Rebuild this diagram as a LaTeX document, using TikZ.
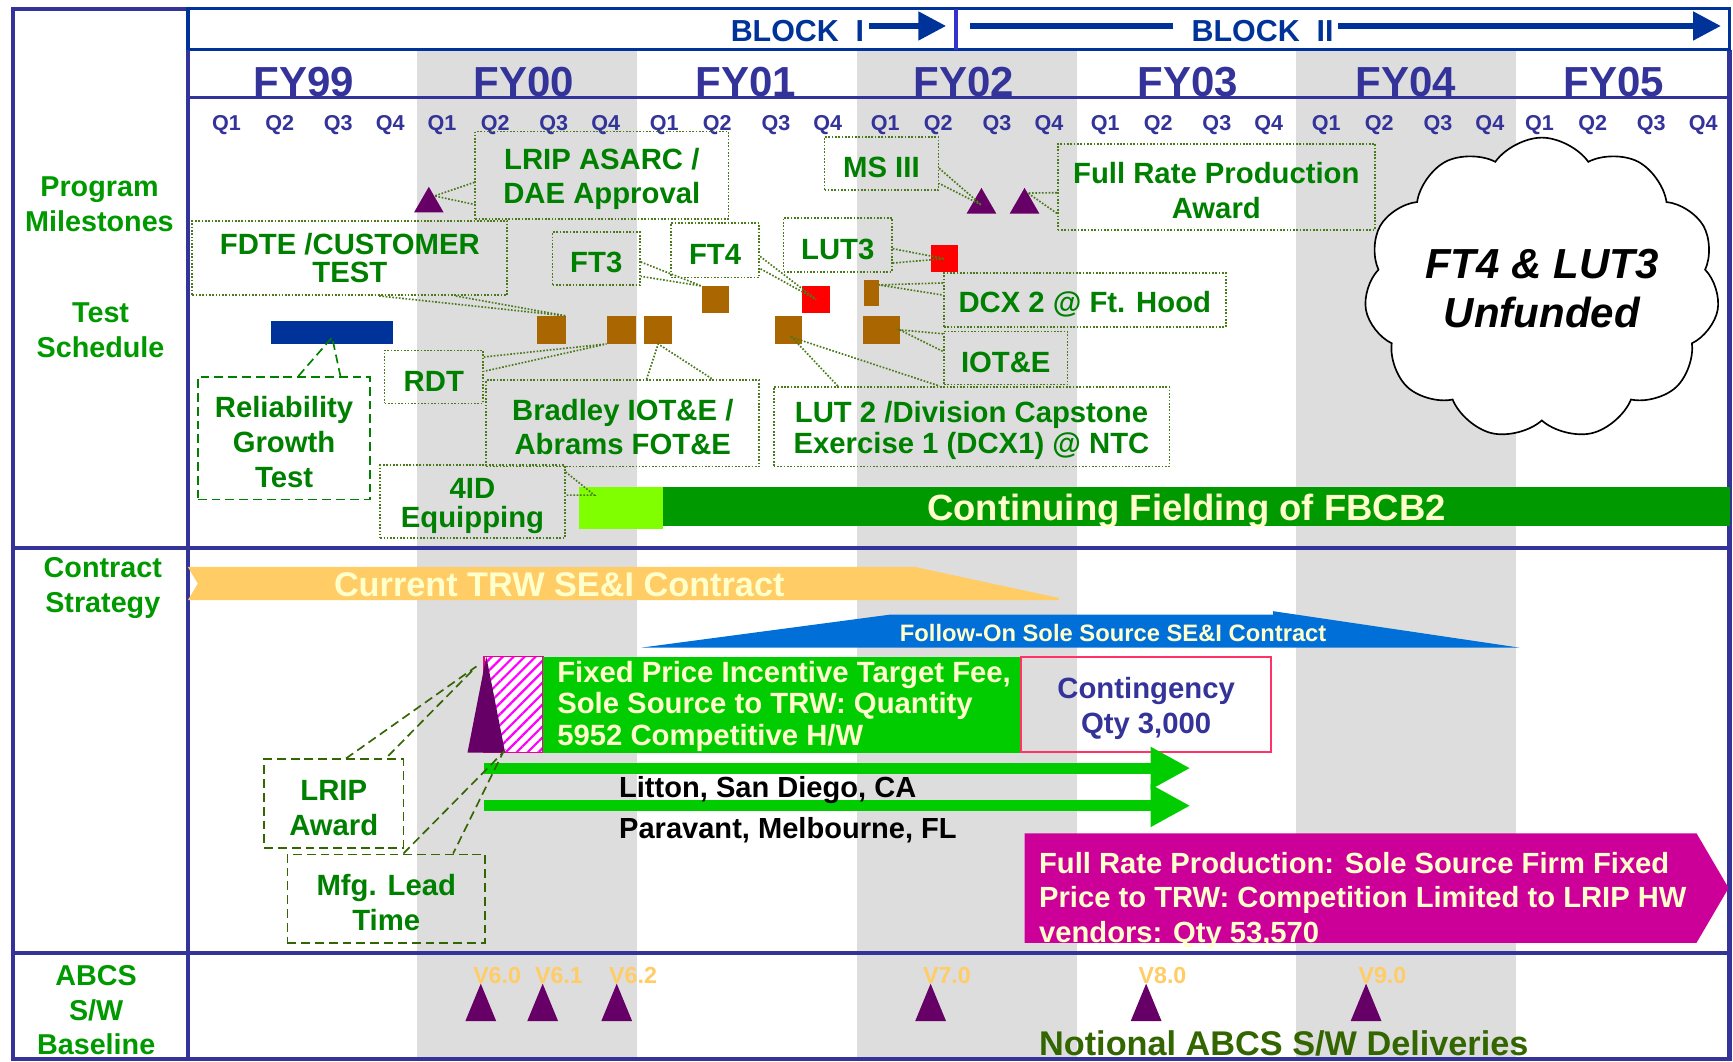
\documentclass[tikz,border=0pt]{standalone}
\usepackage{fontspec}
\setmainfont{Liberation Sans}
\usetikzlibrary{positioning,shapes.geometric,shapes.symbols,arrows.meta,patterns.meta}

\definecolor{navy}{HTML}{333399}
\definecolor{blockblue}{HTML}{003399}
\definecolor{sepblue}{HTML}{3333CC}
\definecolor{bandgrey}{HTML}{DDDDDD}
\definecolor{sidegreen}{HTML}{009900}
\definecolor{notegreen}{HTML}{008000}
\definecolor{dotgreen}{HTML}{4A7A1A}
\definecolor{olivedk}{HTML}{336600}
\definecolor{tanbrown}{HTML}{AA6600}
\definecolor{plum}{HTML}{660066}
\definecolor{cream}{HTML}{FFFFCC}
\definecolor{amber}{HTML}{FFCC66}
\definecolor{seablue}{HTML}{0070D8}
\definecolor{limebar}{HTML}{80FF00}
\definecolor{fieldgreen}{HTML}{009900}
\definecolor{brightgreen}{HTML}{00CC00}
\definecolor{rose}{HTML}{FF3366}
\definecolor{orchid}{HTML}{CC0099}

% keeps callout text a little below the box centre
\newcommand\notestrut{\rule{0pt}{26pt}}

\begin{document}
\begin{tikzpicture}[x=1pt,y=-1pt,
      every node/.style={inner sep=0pt,align=center,
                         font=\bfseries\fontsize{26.3}{31}\selectfont},
      frame/.style={draw=navy,line width=4pt},
      yearhdr/.style={text=navy,anchor=base,font=\bfseries\fontsize{38}{40}\selectfont},
      qtr/.style={text=navy,anchor=base,font=\bfseries\fontsize{19.5}{20}\selectfont},
      blk/.style={text=blockblue,anchor=base west,font=\bfseries\fontsize{27.5}{30}\selectfont},
      blkline/.style={draw=blockblue,line width=5pt},
      side/.style={text=sidegreen,font=\bfseries\fontsize{26}{31.5}\selectfont},
      note/.style={draw=dotgreen,line width=1.5pt,dash pattern=on 1.5pt off 1.5pt,text=notegreen,
                   font=\bfseries\fontsize{26.5}{31.5}\selectfont},
      dnote/.style={draw=olivedk,line width=1.5pt,dash pattern=on 8pt off 4.5pt,text=notegreen,
                   font=\bfseries\fontsize{26.5}{31.5}\selectfont},
      wedge/.style={draw=dotgreen,line width=1.5pt,dash pattern=on 1.5pt off 1.5pt},
      dwedge/.style={draw=olivedk,line width=1.5pt,dash pattern=on 8pt off 4.5pt},
      milestone/.style={regular polygon,regular polygon sides=3,fill=plum,minimum size=31pt},
      tile/.style={fill=tanbrown,minimum width=25pt,minimum height=25pt},
      lane/.style={draw=brightgreen,line width=10pt,-{Triangle[length=36pt,width=36pt]}},
      light/.style={text=cream},
      ver/.style={text=amber,anchor=base west,font=\bfseries\fontsize{21}{22}\selectfont},
    ]
      \useasboundingbox (0,0) rectangle (1568,960);

      % fiscal year shading
      \foreach \xs in {377,775,1173}
        \fill[bandgrey] (\xs,45) rectangle +(199,912);

      % grid
      \draw[frame] (170,8) -- (12,8) -- (12,958) -- (1565,958) -- (1565,45);
      \draw[blockblue,line width=3pt] (170,8) rectangle (1565,45);
      \draw[sepblue,line width=3pt] (865,8) -- (865,45);
      \draw[frame] (170,45) -- (170,958);
      \draw[frame,line width=3pt] (170,88) -- (1565,88);
      \draw[frame] (12,496) -- (1565,496);
      \draw[frame] (12,862) -- (1565,862);

      % block arrows
      \node[blk] (blkI) at (661,37.7) {BLOCK~~I};
      \coordinate (blkIend) at (856,23.5);
      \draw[blkline,shorten <=4pt,-{Triangle[length=25pt,width=25pt]}] (blkI.east |- blkIend) -- (blkIend);
      \node[blk] (blkII) at (1078,37.7) {BLOCK~~II};
      \coordinate (blkIIstart) at (878,23.5);
      \coordinate (blkIIend) at (1557,23.5);
      \draw[blkline,shorten >=17pt] (blkIIstart) -- (blkII.west |- blkIIstart);
      \draw[blkline,shorten <=4pt,-{Triangle[length=25pt,width=25pt]}] (blkII.east |- blkIIend) -- (blkIIend);

      % years and quarters
      \foreach \fy/\xc in {99/275,00/474,01/675,02/872,03/1075,04/1272,05/1460}
        \node[yearhdr] (fy\fy) at (\xc,87) {FY\fy};
      \foreach \s in {179,374,575,775,974,1174,1367} {
        \foreach \q/\dx in {1/26,2/74,3/127,4/174}
          \node[qtr] (q\s-\q) at (\s+\dx,118) {Q\q};
      }

      % row titles
      \node[side] (progMs) at (90,185) {Program\\Milestones};
      \node[side] (testSch) at (91,299) {Test\\Schedule};
      \node[side] (contract) at (93,532) {Contract\\Strategy};
      \node[side] (abcs) at (87,914) {ABCS\\S/W\\Baseline};

      % milestones
      \node[milestone] (msLrip) at (388,184.5) {};
      \node[milestone] (ms3a) at (888,185.5) {};
      \node[milestone] (ms3b) at (927,185.5) {};
      \node[note,minimum width=229pt,minimum height=79pt] (cLrip) at (544.5,158.5) {\notestrut LRIP ASARC /\\DAE Approval};
      \node[note,minimum width=103pt,minimum height=48pt] (cMs) at (797.5,148) {\notestrut MS III};
      \node[note,minimum width=287pt,minimum height=78pt] (cFrp) at (1100.5,169) {\notestrut Full Rate Production\\Award};

      % test events
      \node[fill=blockblue,minimum width=111pt,minimum height=21pt] (relBar) at (300.5,300.5) {};
      \node[tile,minimum width=26pt] (sqA) at (499,298.5) {};
      \node[tile,minimum width=26pt] (sqB) at (562,298.5) {};
      \node[tile] (sqC) at (595.5,298.5) {};
      \node[tile,minimum height=24pt] (sqD) at (647.5,271) {};
      \node[tile,fill=red,minimum height=24pt] (sqE) at (738.5,271) {};
      \node[tile] (sqF) at (713.5,298.5) {};
      \node[tile,fill=red,minimum height=24pt] (sqG) at (854.5,234) {};
      \node[tile,minimum width=13pt,minimum height=24pt] (sqH) at (788.5,265) {};
      \node[tile,minimum width=33pt] (sqI) at (797.5,298.5) {};

      \node[note,minimum width=285pt,minimum height=67pt,font=\bfseries\fontsize{26.5}{25}\selectfont] (cFdte) at (316.5,233.5) {FDTE /CUSTOMER\\TEST};
      \node[note,minimum width=79pt,minimum height=48pt] (cFt3) at (539.5,234) {\notestrut FT3};
      \node[note,minimum width=80pt,minimum height=49pt] (cFt4) at (647,226.5) {\notestrut FT4};
      \node[note,minimum width=98pt,minimum height=49pt] (cLut3) at (758,221.5) {\notestrut LUT3};
      \node[note,minimum width=255pt,minimum height=49pt] (cDcx2) at (981.5,271.5) {\notestrut DCX 2 @ Ft. Hood};
      \node[note,minimum width=112pt,minimum height=48pt] (cIote) at (910,324) {\notestrut IOT\&E};
      \node[note,minimum width=89pt,minimum height=48pt] (cRdt) at (392.5,341) {\notestrut RDT};
      \node[note,minimum width=247pt,minimum height=78pt] (cBrad) at (563.5,383) {\notestrut Bradley IOT\&E /\\Abrams FOT\&E};
      \node[note,minimum width=358pt,minimum height=72pt,font=\bfseries\fontsize{26.5}{28}\selectfont] (cLut2) at (879,386) {\notestrut LUT 2 /Division Capstone\\Exercise 1 (DCX1) @ NTC};
      \node[dnote,draw=notegreen,minimum width=156pt,minimum height=111pt] (cRel) at (257,396.5) {\notestrut Reliability\\Growth\\Test};
      \node[note,minimum width=167pt,minimum height=66pt,font=\bfseries\fontsize{26.5}{26}\selectfont] (c4id) at (427.5,454) {\notestrut 4ID\\Equipping};

      % fielding
      \node[fill=limebar,minimum width=76pt,minimum height=38pt] (equipBar) at (562,460) {};
      \node[fill=fieldgreen,minimum width=965pt,minimum height=35pt] (fieldBar) at (1082.5,458.5) {};
      \node[light,anchor=base,font=\bfseries\fontsize{33}{35}\selectfont] (fieldTxt) at (1073.5,471) {Continuing Fielding of FBCB2};

      % callout pointers
      \draw[wedge] ([yshift=-6.5pt]cLrip.west) -- (msLrip.55) -- ([yshift=-26.5pt]cLrip.west);
      \draw[wedge] ([yshift=-4.3pt]cMs.east) -- (ms3a.center) -- ([yshift=-18pt]cMs.east);
      \draw[wedge] ([yshift=-5.4pt]cFrp.west) -- (ms3b.75) -- ([yshift=-24pt]cFrp.west);
      \draw[wedge] ([xshift=26.5pt]cFdte.south) -- (sqA.north east) -- ([xshift=95.5pt]cFdte.south);
      \draw[wedge] ([yshift=-3pt]cFt3.east) -- (sqD.north west) -- ([yshift=-16pt]cFt3.east);
      \draw[wedge] ([yshift=-5.5pt]cFt4.east) -- (sqE.center) -- ([yshift=-16.5pt]cFt4.east);
      \draw[wedge] ([yshift=-3.5pt]cLut3.east) -- (sqG.center) -- ([yshift=-16.5pt]cLut3.east);
      \draw[wedge] ([yshift=15.5pt]cDcx2.west) -- ([yshift=-5pt]sqH.north east) -- ([yshift=4.5pt]cDcx2.west);
      \draw[wedge] ([yshift=22pt]cIote.west) -- (sqI.east) -- ([yshift=6pt]cIote.west);
      \draw[wedge] ([yshift=18pt]cRdt.east) -- (sqB.south west) -- ([yshift=5pt]cRdt.east);
      \draw[wedge] ([xshift=21.5pt]cBrad.north) -- (sqC.south) -- ([xshift=81.5pt]cBrad.north);
      \draw[wedge] ([xshift=-121pt]cLut2.north) -- ([shift={(3pt,6pt)}]sqF.south) -- ([xshift=-29pt]cLut2.north);
      \draw[dwedge,draw=notegreen] ([xshift=13pt]cRel.north) -- ([yshift=6pt]relBar.south) -- ([xshift=51pt]cRel.north);
      \draw[wedge] ([yshift=27pt]c4id.east) -- ([shift={(14pt,12pt)}]equipBar.west) -- ([yshift=6pt]c4id.east);

      % unfunded cloud
      \node[cloud,cloud puffs=11,cloud puff arc=110,aspect=1.25,draw=black,fill=white,
            line width=1.5pt,minimum width=321pt,minimum height=263pt,
            font=\bfseries\itshape\fontsize{38}{45}\selectfont] (unfunded) at (1395,261) {FT4 \& LUT3\\Unfunded};

      % contract strategy
      \fill[amber] (170,513) -- (828,513) -- (958,541) -- (958,543) -- (170,543) -- (179,528) -- cycle;
      \node[light,anchor=base west,font=\bfseries\fontsize{31}{33}\selectfont] (trwTxt) at (302,540) {Current TRW SE\&I Contract};
      \fill[seablue] (580,586) -- (806,556) -- (1152,556) -- (1152,553) -- (1375,586) -- cycle;
      \node[light,anchor=base west,font=\bfseries\fontsize{21.5}{23}\selectfont] (followTxt) at (814,580) {Follow-On Sole Source SE\&I Contract};

      \node[draw=magenta,line width=1.5pt,preaction={fill=white},
            pattern={Lines[angle=45,distance=7pt,line width=2pt]},pattern color=magenta,
            minimum width=53pt,minimum height=87pt] (leadHatch) at (464.5,637.5) {};
      \coordinate (lripAw) at (440,594);
      \coordinate (prodStart) at (455,681);
      \fill[plum] (423,681) -- (lripAw) -- (457,681) -- cycle;
      \node[fill=brightgreen,minimum width=433pt,minimum height=87pt] (fpBox) at (707.5,637.5) {};
      \node[light,anchor=north west,align=left,font=\bfseries\fontsize{26.5}{28.5}\selectfont] (fpTxt) at (504,598)
        {Fixed Price Incentive Target Fee,\\Sole Source to TRW: Quantity\\5952 Competitive H/W};
      \node[draw=rose,line width=1.5pt,text=navy,minimum width=226pt,minimum height=86pt,
            font=\bfseries\fontsize{26.5}{31.5}\selectfont] (contBox) at (1037,637.5) {\notestrut Contingency\\Qty 3,000};

      \coordinate (litS) at (438,695);
      \coordinate (litE) at (1077,695);
      \coordinate (parS) at (438,729);
      \coordinate (parE) at (1077,729);
      \draw[lane] (litS) -- (litE);
      \draw[lane] (parS) -- (parE);
      \node[anchor=base west] (litton) at (560,722) {Litton, San Diego, CA};
      \node[below=37pt of litton.base west,anchor=base west] (paravant) {Paravant, Melbourne, FL};

      \node[dnote,minimum width=126pt,minimum height=80pt] (cLripAw) at (302,727) {\notestrut LRIP\\Award};
      \node[dnote,minimum width=179pt,minimum height=80pt] (cMfg) at (349.5,813) {\notestrut Mfg. Lead\\Time};
      \draw[dwedge] ([xshift=11pt]cLripAw.north) -- ([shift={(-9pt,-9pt)}]lripAw) -- ([xshift=47pt]cLripAw.north);
      \draw[dwedge] ([xshift=15.5pt]cMfg.north) -- (prodStart) -- ([xshift=60.5pt]cMfg.north);

      \fill[orchid] (927,754) -- (1535,754) -- (1564,803.5) -- (1535,853) -- (927,853) -- cycle;
      \node[light,anchor=north west,align=left,font=\bfseries\fontsize{26.4}{31}\selectfont] (frpTxt) at (940,771)
        {Full Rate Production: Sole Source Firm Fixed\\Price to TRW: Competition Limited to LRIP HW\\vendors: Qty 53,570};

      % software baselines
      \foreach \x/\vnum in {435/6.0,491/6.1,558/6.2,842/7.0,1037/8.0,1236/9.0} {
        \fill[plum] (\x,890) -- ++(14,34) -- ++(-28,0) -- cycle;
        \node[ver] (v\x) at (\x-7,890) {V\vnum};
      }
      \node[anchor=base west,text=olivedk,font=\bfseries\fontsize{31}{33}\selectfont] (notional) at (940,955) {Notional ABCS S/W Deliveries};
    \end{tikzpicture}
\end{document}
